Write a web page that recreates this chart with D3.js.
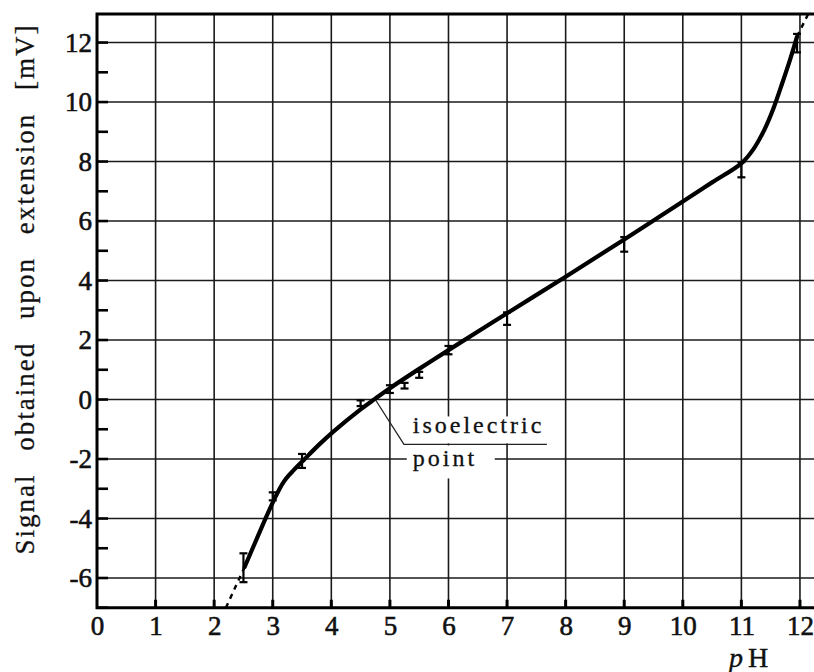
<!DOCTYPE html>
<html>
<head>
<meta charset="utf-8">
<script src="https://cdn.jsdelivr.net/npm/d3@7"></script>
<style>
  body { margin: 0; background: #fff; }
  svg { display: block; }
  text { font-family: "Liberation Serif", "Times New Roman", serif; fill: #111; }
</style>
</head>
<body>
<svg id="chart" width="814" height="672"></svg>
<script>
// Axis ticks
const phTicks = [0, 1, 2, 3, 4, 5, 6, 7, 8, 9, 10, 11, 12];
const signalTicks = [-6, -4, -2, 0, 2, 4, 6, 8, 10, 12];
const signalMinorTicks = [-7, -6, -5, -4, -3, -2, -1, 0, 1, 2, 3, 4, 5, 6, 7, 8, 9, 10, 11, 12];

// Measured curve (solid part)
const curvePH =     [2.52, 2.78, 2.95, 3.04, 3.12, 3.19, 3.27, 3.35, 3.53, 3.8, 4.04, 4.5, 4.75, 5.0, 5.5, 6.0, 7.0, 8.0, 9.0, 10.0, 10.5, 11.0, 11.2, 11.4, 11.55, 11.7, 11.83, 11.95];
const curveSignal = [-5.63, -4.44, -3.68, -3.30, -2.99, -2.76, -2.56, -2.39, -2.03, -1.50, -1.07, -0.33, 0.03, 0.38, 1.03, 1.66, 2.9, 4.13, 5.38, 6.66, 7.3, 7.94, 8.4, 9.1, 9.8, 10.65, 11.42, 12.2];

// Extrapolated (dashed) ends
const lowerExtPH = [2.2, 2.52];
const lowerExtSignal = [-7, -5.63];
const upperExtPH = [11.95, 12.14];
const upperExtSignal = [12.2, 12.96];

// Error bars
const barPH =   [2.5, 3, 3.5, 4.5, 5, 5.25, 5.5, 6, 7, 9, 11, 11.95];
const barLow =  [-6.14, -3.39, -2.30, -0.22, 0.22, 0.37, 0.73, 1.52, 2.51, 4.97, 7.47, 11.67];
const barHigh = [-5.17, -3.12, -1.83, -0.03, 0.48, 0.56, 0.93, 1.80, 2.93, 5.46, 7.98, 12.29];

// Isoelectric point annotation
const isoPoint = [4.75, 0];
const leaderElbow = [5.24, -1.51];
const leaderEndPH = 7.68;
const isoLabelLines = ["isoelectric", "point"];
const isoLabelSignal = [-1.14, -2.22];
const isoLabelPH = 5.39;

const xLabel = ["p", "H"];
const yLabel = "Signal obtained upon extension [mV]";

const svg = d3.select("#chart");
const W = 814, H = 672;
svg.append("rect").attr("width", W).attr("height", H).attr("fill", "#fff");

const plotLeft = 97, plotRight = 814, plotTop = 14, plotBottom = 607.75;
const x = d3.scaleLinear().domain([0, (plotRight - plotLeft) / 58.58]).range([plotLeft, plotRight]);
const y = d3.scaleLinear().domain([-7, 12.96]).range([plotBottom, plotTop]);

// Grid
const grid = svg.append("g").attr("stroke", "#1a1a1a").attr("stroke-width", 1.6);
grid.selectAll("line.v").data(phTicks.filter(d => d > 0)).join("line").attr("class", "v")
  .attr("x1", d => x(d)).attr("x2", d => x(d))
  .attr("y1", plotTop).attr("y2", plotBottom);
grid.selectAll("line.h").data(signalTicks).join("line").attr("class", "h")
  .attr("x1", plotLeft).attr("x2", plotRight)
  .attr("y1", d => y(d)).attr("y2", d => y(d));

// White patches behind the annotation text
const boxes = svg.append("g").attr("fill", "#fff");
boxes.append("rect")
  .attr("x", x(isoLabelPH) - 6).attr("y", y(isoLabelSignal[0]) - 17)
  .attr("width", x(leaderEndPH) - x(isoLabelPH) + 6).attr("height", 27);
boxes.append("rect")
  .attr("x", x(isoLabelPH) - 6).attr("y", y(leaderElbow[1]) + 1)
  .attr("width", 88).attr("height", 33);

// Leader line
svg.append("path")
  .attr("d", d3.line()([
    [x(isoPoint[0]), y(isoPoint[1])],
    [x(leaderElbow[0]), y(leaderElbow[1])],
    [x(leaderEndPH), y(leaderElbow[1])]
  ]))
  .attr("fill", "none").attr("stroke", "#222").attr("stroke-width", 1.3);

svg.append("g").selectAll("text").data(isoLabelLines).join("text")
  .attr("x", x(isoLabelPH))
  .attr("y", (d, i) => y(isoLabelSignal[i]))
  .attr("font-size", 24)
  .attr("letter-spacing", 3)
  .attr("stroke", "#111").attr("stroke-width", 0.3)
  .text(d => d);

// Curve
const line = d3.line().x(d => x(d[0])).y(d => y(d[1])).curve(d3.curveCatmullRom.alpha(0.5));
svg.append("path")
  .attr("d", line(curvePH.map((p, i) => [p, curveSignal[i]])))
  .attr("fill", "none").attr("stroke", "#000").attr("stroke-width", 4.2)
  .attr("stroke-linecap", "round").attr("stroke-linejoin", "round");

const dashed = d3.line().x(d => x(d[0])).y(d => y(d[1]));
[[lowerExtPH, lowerExtSignal], [upperExtPH, upperExtSignal]].forEach(([px, sy]) => {
  svg.append("path")
    .attr("d", dashed(px.map((p, i) => [p, sy[i]])))
    .attr("fill", "none").attr("stroke", "#000").attr("stroke-width", 2.4)
    .attr("stroke-dasharray", "5,5");
});

// Error bars
const bars = svg.append("g").attr("stroke", "#000").attr("stroke-width", 2.2);
barPH.forEach((p, i) => {
  const cx = x(p), y1 = y(barLow[i]), y2 = y(barHigh[i]);
  bars.append("line").attr("x1", cx).attr("x2", cx).attr("y1", y1).attr("y2", y2);
  bars.append("line").attr("x1", cx - 4).attr("x2", cx + 4).attr("y1", y1).attr("y2", y1);
  bars.append("line").attr("x1", cx - 4).attr("x2", cx + 4).attr("y1", y2).attr("y2", y2);
});

// Frame
svg.append("path")
  .attr("d", `M${plotRight},${plotTop}H${plotLeft}V${plotBottom}H${plotRight}`)
  .attr("stroke", "#000").attr("stroke-width", 3).attr("fill", "none");

// Bottom axis
const xAxis = d3.axisBottom(x).tickValues(phTicks).tickSize(0).tickPadding(8).tickFormat(d3.format("d"));
const gx = svg.append("g").attr("transform", `translate(0,${plotBottom})`).call(xAxis);
gx.select(".domain").remove();
gx.selectAll("text").attr("font-size", 27)
  .attr("fill", "#111").attr("stroke", "#111").attr("stroke-width", 0.6);
svg.append("g").attr("stroke", "#000").attr("stroke-width", 3)
  .selectAll("line").data(phTicks.filter(d => d > 0)).join("line")
  .attr("x1", d => x(d)).attr("x2", d => x(d))
  .attr("y1", plotBottom).attr("y2", plotBottom - 8);

// Left axis
const yAxis = d3.axisLeft(y).tickValues(signalTicks).tickSize(0).tickPadding(5).tickFormat(d => String(d));
const gy = svg.append("g").attr("transform", `translate(${plotLeft},0)`).call(yAxis);
gy.select(".domain").remove();
gy.selectAll("text").attr("font-size", 27)
  .attr("fill", "#111").attr("stroke", "#111").attr("stroke-width", 0.6);
svg.append("g").attr("stroke", "#000").attr("stroke-width", 2.6)
  .selectAll("line").data(signalMinorTicks).join("line")
  .attr("x1", plotLeft).attr("x2", plotLeft + 11)
  .attr("y1", d => y(d)).attr("y2", d => y(d));

// Axis titles
const xt = svg.append("text").attr("x", 729).attr("y", 667).attr("font-size", 28)
  .attr("stroke", "#111").attr("stroke-width", 0.4);
xt.append("tspan").attr("font-style", "italic").text(xLabel[0]);
xt.append("tspan").attr("dx", 5).text(xLabel[1]);

svg.append("text")
  .attr("transform", "translate(34,289) rotate(-90)")
  .attr("text-anchor", "middle")
  .attr("font-size", 27)
  .attr("letter-spacing", 2)
  .attr("word-spacing", 14)
  .attr("stroke", "#111").attr("stroke-width", 0.3)
  .text(yLabel);
</script>
</body>
</html>
